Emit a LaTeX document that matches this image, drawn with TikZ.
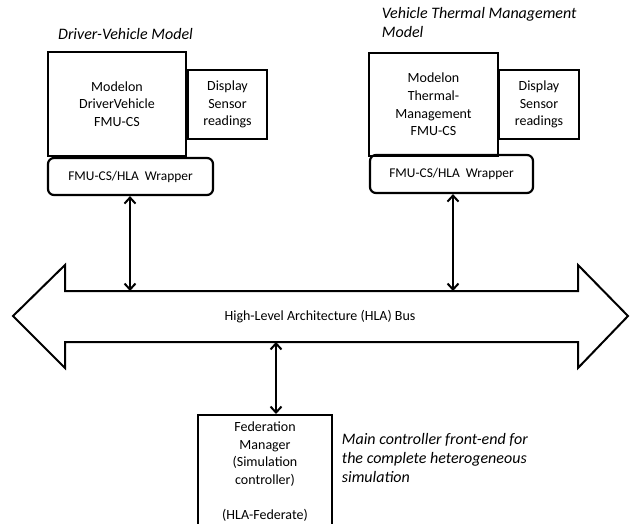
\documentclass[tikz,border=0pt]{standalone}
\usepackage{fontspec}
\setmainfont{Carlito}
\usetikzlibrary{arrows.meta}

\begin{document}
\begin{tikzpicture}[
                x=1pt,y=-1pt,
                line width=1.8pt,
                font=\fontsize{14}{17.7}\selectfont,
                box/.style={draw,align=center,inner sep=0pt,line width=2.2pt},
                wrapbox/.style={box,rounded corners=6pt,font=\fontsize{13.4}{16}\selectfont},
                title/.style={font=\fontsize{16}{19.2}\selectfont\itshape,align=left,inner sep=0pt},
                bus/.style={<->,line width=2pt,>={Straight Barb[length=6pt,width=11pt]}}] %

\useasboundingbox (0,0) rectangle (632,524);

                    % 1
                    \node[title] (TDV) at (125.5,34) {Driver-Vehicle Model};
                    \node[box,minimum width=138,minimum height=104] (MODL) at (117,104) {Modelon\\DriverVehicle\\FMU-CS};
                    \node[box,minimum width=79,minimum height=69] (DISPL) at (227.5,104.5) {Display\\Sensor\\readings};
                    \node[wrapbox,minimum width=165,minimum height=37] (WRAPL) at (130.5,176.5) {FMU-CS/HLA\ \ Wrapper};

                    % 2
                    \node[title,anchor=north west] (TVT) at (381,6) {Vehicle Thermal Management\\Model};
                    \node[box,minimum width=129,minimum height=103] (MODR) at (433.5,104.5) {Modelon\\Thermal-\\Management\\FMU-CS};
                    \node[box,minimum width=80,minimum height=69] (DISPR) at (539,104.5) {Display\\Sensor\\readings};
                    \node[wrapbox,minimum width=163,minimum height=38] (WRAPR) at (451.5,174) {FMU-CS/HLA\ \ Wrapper};

                    % 3
                    \draw[line width=2pt,line join=miter] (13,316) -- (65,265) -- (65,291) -- (578,291) -- (578,265) -- (628,316)
                        -- (578,368) -- (578,342) -- (65,342) -- (65,368) -- cycle;
                    \node (BUS) at (320,317) {High-Level Architecture (HLA) Bus};
                    \coordinate (BUSTOP) at (320,291);
                    \coordinate (BUSBOT) at (276,342);

                    % 4
                    \node[box,anchor=north,minimum width=134,inner ysep=6.5pt] (FED) at (265,414) {Federation\\Manager\\(Simulation\\controller)\\\\(HLA-Federate)};
                    \node[title,anchor=north west] (NOTE) at (341,432) {Main controller front-end for\\the complete heterogeneous\\simulation};

                    \draw [bus] (WRAPL.south -| 130,0) -- (130,291);
                    \draw [bus] (WRAPR.south -| 453,0) -- (453,291);
                    \draw [bus] (BUSBOT) -- (BUSBOT |- FED.north);

%%%%%%%%%%%%%%%%%%%%%%%%%%%%%%%%%%%%%%%%%%%%%%%%%%%%%%%%%%%%%%%%%%%%%%%%%%%%%%%%%%%%

\end{tikzpicture}
\end{document}
